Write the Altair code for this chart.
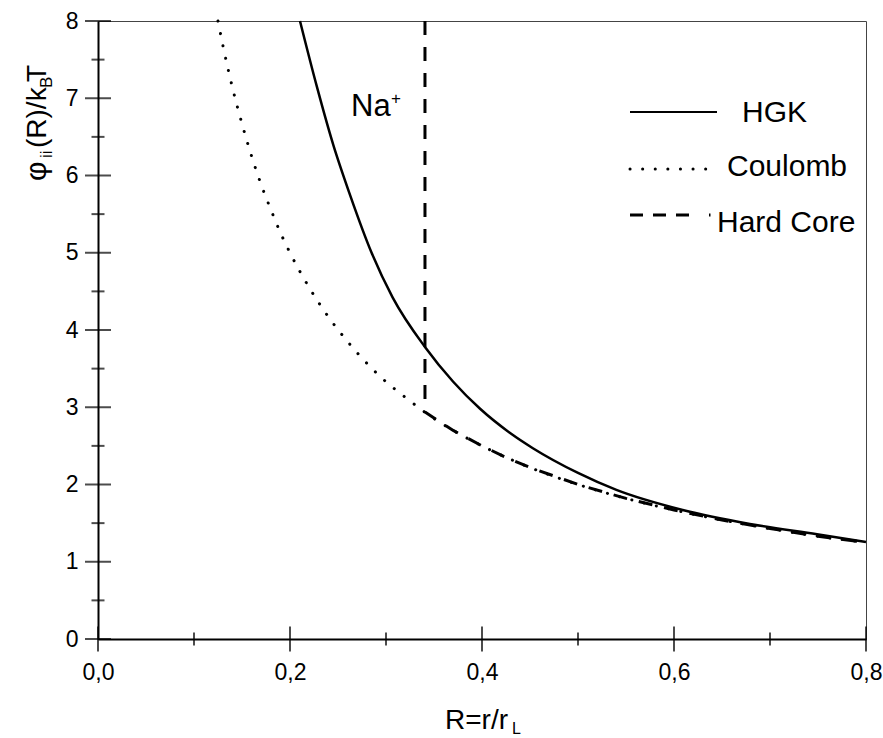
import altair as alt
import pandas as pd

# ---- data ----
hgk_R = [0.2104, 0.228, 0.245, 0.2625, 0.285, 0.307, 0.3406, 0.37, 0.398, 0.43, 0.453,
         0.50, 0.54, 0.609, 0.679, 0.749, 0.80]
hgk_V = [8.0, 7.15, 6.4, 5.75, 5.0, 4.42, 3.78, 3.33, 2.98, 2.66, 2.47,
         2.15, 1.93, 1.67, 1.49, 1.355, 1.255]

coul_R = [0.125, 0.13, 0.14, 0.15, 0.16, 0.17, 0.18, 0.19, 0.20, 0.22, 0.24, 0.26, 0.28,
          0.30, 0.32, 0.34, 0.37, 0.40, 0.45, 0.50, 0.55, 0.60, 0.65, 0.70, 0.75, 0.80]
coul_V = [8.0, 7.69, 7.14, 6.67, 6.25, 5.88, 5.56, 5.26, 5.0, 4.55, 4.17, 3.85, 3.57,
          3.33, 3.13, 2.94, 2.70, 2.50, 2.22, 2.0, 1.82, 1.67, 1.54, 1.43, 1.33, 1.25]

hc_R = [0.3406, 0.3406, 0.355, 0.37, 0.385, 0.40, 0.425, 0.45, 0.475, 0.50, 0.55,
        0.60, 0.65, 0.70, 0.75, 0.80]
hc_V = [8.0, 2.94, 2.82, 2.70, 2.60, 2.50, 2.35, 2.22, 2.11, 2.0, 1.82,
        1.67, 1.54, 1.43, 1.33, 1.25]

x_major = [0.0, 0.2, 0.4, 0.6, 0.8]
x_minor = [0.1, 0.3, 0.5, 0.7]
y_major = [0, 1, 2, 3, 4, 5, 6, 7, 8]
y_minor = [0.5, 1.5, 2.5, 3.5, 4.5, 5.5, 6.5, 7.5]

FONT = "Liberation Sans"
W, H = 768, 618
LEFT, TOP = 98, 21

xs = alt.Scale(domain=[0, 0.8], nice=False, zero=False)
ys = alt.Scale(domain=[0, 8], nice=False, zero=False)

df_hgk = pd.DataFrame({"R": hgk_R, "V": hgk_V})
df_coul = pd.DataFrame({"R": coul_R, "V": coul_V})
df_hc = pd.DataFrame({"R": hc_R, "V": hc_V, "o": list(range(len(hc_R)))})

xaxis = alt.Axis(values=x_major, labelExpr="replace(format(datum.value, '.1f'), '.', ',')",
                 ticks=False, tickSize=0, grid=False, labelFontSize=23, labelFont=FONT,
                 labelColor="black", labelPadding=22, labelFlush=False, title=None,
                 domainColor="black", domainWidth=2)
yaxis = alt.Axis(values=y_major, format="d", ticks=False, tickSize=0, grid=False,
                 labelFontSize=23, labelFont=FONT, labelColor="black", labelPadding=20,
                 labelFlush=False, title=None, domainColor="black", domainWidth=2)

base_x = alt.X("R:Q", scale=xs, axis=xaxis)
base_y = alt.Y("V:Q", scale=ys, axis=yaxis)

coul = alt.Chart(df_coul).mark_line(color="black", strokeWidth=3, strokeDash=[0.1, 12.5],
                                    strokeCap="round", interpolate="monotone").encode(x=base_x, y=base_y)
hc = alt.Chart(df_hc).mark_line(color="black", strokeWidth=3, strokeDash=[14, 12]).encode(
    x=alt.X("R:Q", scale=xs), y=alt.Y("V:Q", scale=ys), order="o:Q")
hgk = alt.Chart(df_hgk).mark_line(color="black", strokeWidth=2.5, interpolate="monotone").encode(
    x=alt.X("R:Q", scale=xs), y=alt.Y("V:Q", scale=ys))

# crossing ticks
def xt(vals, size):
    return alt.Chart(pd.DataFrame({"t": vals})).mark_tick(
        orient="vertical", size=size, thickness=2, color="black").encode(
        x=alt.X("t:Q", scale=xs), y=alt.datum(0, scale=ys))

def yt(vals, size):
    return alt.Chart(pd.DataFrame({"t": vals})).mark_tick(
        orient="horizontal", size=size, thickness=2, color="black").encode(
        y=alt.Y("t:Q", scale=ys), x=alt.datum(0, scale=xs))

ticks = [xt(x_major, 25), xt(x_minor, 13), yt(y_major, 26), yt(y_minor, 13)]

one = pd.DataFrame({"a": [0]})

def txt(s, x, y, size, align="left", angle=0):
    kw = dict(text=s, font=FONT, fontSize=size, color="black", align=align, baseline="alphabetic")
    if angle:
        kw["angle"] = angle
    return alt.Chart(one).mark_text(**kw).encode(x=alt.value(x - LEFT), y=alt.value(y - TOP))

def rule(x1, x2, y, **kw):
    return alt.Chart(one).mark_rule(color="black", **kw).encode(
        x=alt.value(x1 - LEFT), x2=alt.value(x2 - LEFT), y=alt.value(y - TOP))

labels = [
    # legend
    rule(630, 717, 112, strokeWidth=2),
    txt("HGK", 742, 122, 30),
    rule(630, 708, 169, strokeWidth=3, strokeDash=[0.1, 12.5], strokeCap="round"),
    txt("Coulomb", 727, 176, 30),
    rule(630, 714, 215, strokeWidth=3, strokeDash=[13, 10, 13, 10, 13, 20, 1.5, 100]),
    txt("Hard Core", 717, 232, 30),
    # Na+
    txt("Na", 351, 116, 31),
    txt("+", 391, 104, 17),
    # x title
    txt("R=r/r", 445, 729, 28),
    txt("L", 512, 734, 16),
    # y title (rotated)
    txt("\u03c6", 46, 181, 30, angle=270),
    txt("ii", 52, 158, 17, angle=270),
    txt("(R)/k", 46, 148, 28, angle=270),
    txt("B", 52, 88, 17, angle=270),
    txt("T", 46, 82, 28, angle=270),
]

chart = alt.layer(coul, hc, hgk, *ticks, *labels).properties(
    width=W, height=H,
    autosize=alt.AutoSizeParams(type="none"),
    padding={"left": LEFT, "top": TOP, "right": 883 - LEFT - W, "bottom": 738 - TOP - H},
    background="white",
).configure_view(stroke="#444", strokeWidth=1)

chart.save("out.html", embed_options={"renderer": "svg", "actions": False})
